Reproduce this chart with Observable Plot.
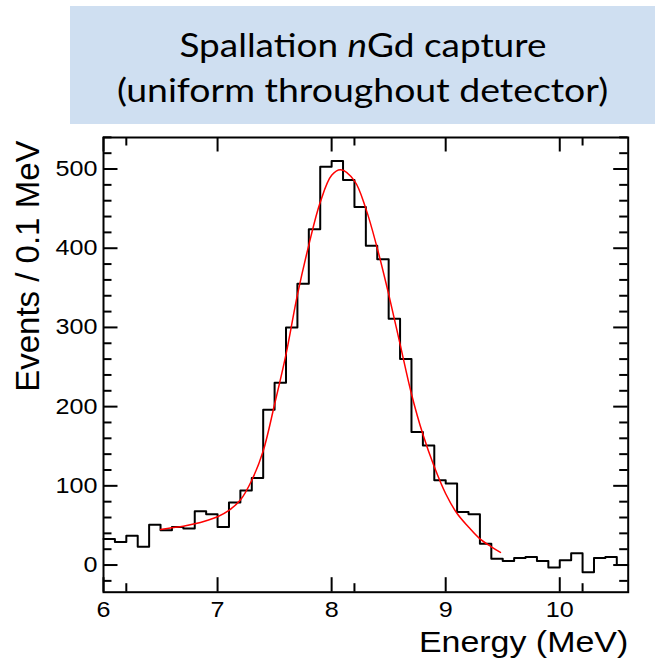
<!DOCTYPE html>
<html>
<head>
<meta charset="utf-8">
<script src="https://cdn.jsdelivr.net/npm/d3@7"></script>
<script src="https://cdn.jsdelivr.net/npm/@observablehq/plot@0.6"></script>
<style>
  body { margin: 0; background: #fff; width: 655px; height: 660px; overflow: hidden; }
  #title { position: relative; height: 130px; width: 655px; }
  #box { position: absolute; left: 70px; top: 6px; width: 585px; height: 118px; background: #cfdff1; }
  .tl { position: absolute; left: 0; width: 585px; text-align: center; font-family: Lato, "Open Sans", sans-serif;
        font-size: 33px; line-height: 40px; color: #000; white-space: nowrap; }
  .tl span { display: inline-block; transform-origin: 50% 50%; }
  svg { display: block; }
</style>
</head>
<body>
<div id="title">
  <div id="box">
    <div class="tl" style="top:18px"><span id="l1">Spallation <i>n</i>Gd capture</span></div>
    <div class="tl" style="top:63px"><span id="l2">(uniform throughout detector)</span></div>
  </div>
</div>
<div id="chart"></div>
<script>
// ---- data ----
const binStart = [6.0, 6.1, 6.2, 6.3, 6.4, 6.5, 6.6, 6.7, 6.8, 6.9,
                  7.0, 7.1, 7.2, 7.3, 7.4, 7.5, 7.6, 7.7, 7.8, 7.9,
                  8.0, 8.1, 8.2, 8.3, 8.4, 8.5, 8.6, 8.7, 8.8, 8.9,
                  9.0, 9.1, 9.2, 9.3, 9.4, 9.5, 9.6, 9.7, 9.8, 9.9,
                  10.0, 10.1, 10.2, 10.3, 10.4, 10.5];
const events = [33, 29, 37, 23, 51, 44, 48, 46, 68, 64,
                48, 79, 94, 110, 196, 230, 300, 355, 424, 503,
                510, 486, 452, 403, 386, 311, 260, 168, 151, 107,
                103, 67, 64, 27, 8, 5, 9, 10, 5, -3,
                6, 15, -9, 9, 10, 0];
const binWidth = 0.1;
const fitEnergy = [6.5, 6.6, 6.7, 6.8, 6.9, 7.0, 7.1, 7.2, 7.3, 7.4, 7.5, 7.6, 7.7, 7.8, 7.9,
                   8.0, 8.08, 8.2, 8.3, 8.4, 8.5, 8.6, 8.7, 8.8, 8.9, 9.0, 9.1, 9.2, 9.3, 9.4, 9.48];
const fitEvents = [45, 47, 49, 52, 56, 61, 69, 82, 107, 144, 203, 266, 341, 404, 458,
                   492, 499, 485, 450, 400, 342, 279, 216, 165, 124, 90, 65, 48, 33, 23, 16];
const xTickLabels = [6, 7, 8, 9, 10];
const yTickLabels = [0, 100, 200, 300, 400, 500];
const xTitle = "Energy (MeV)";
const yTitle = "Events / 0.1 MeV";

// ---- derived tables ----
const hist = binStart.map((e, i) => ({x: e, y: events[i]}));
hist.push({x: binStart[binStart.length - 1] + binWidth, y: events[events.length - 1]});
const fit = fitEnergy.map((e, i) => ({x: e, y: fitEvents[i]}));
const xMinor = d3.range(62, 1061, 20).map(v => v / 10).filter(v => Math.abs(v - Math.round(v)) > 1e-6);
const yMinor = d3.range(-20, 541, 20).filter(v => v % 100 !== 0);

// ---- layout ----
const W = 655, H = 530, mL = 103, mR = 27.3, mT = 7, mB = 68.3;
const fw = W - mL - mR, fh = H - mT - mB;
const majL = 14.5, minL = 8.5;
const ink = "#000";

const chart = Plot.plot({
  width: W, height: H,
  marginLeft: mL, marginRight: mR, marginTop: mT, marginBottom: mB,
  x: {domain: [6, 10.6]},
  y: {domain: [-34.3, 539.8]},
  style: {fontFamily: "'Liberation Sans', Arial, sans-serif", fontSize: "21.5px", color: ink, background: "#fff"},
  marks: [
    Plot.line(hist, {x: "x", y: "y", curve: "step-after", stroke: ink, strokeWidth: 2}),
    Plot.line(fit, {x: "x", y: "y", curve: "catmull-rom", stroke: "#ff0000", strokeWidth: 1.5}),
    Plot.tickX(xTickLabels, {x: d => d, insetTop: fh - majL, stroke: ink, strokeWidth: 2}),
    Plot.tickX(xTickLabels, {x: d => d, insetBottom: fh - majL, stroke: ink, strokeWidth: 2}),
    Plot.tickX(xMinor, {x: d => d, insetTop: fh - minL, stroke: ink, strokeWidth: 2}),
    Plot.tickX(xMinor, {x: d => d, insetBottom: fh - minL, stroke: ink, strokeWidth: 2}),
    Plot.tickY(yTickLabels, {y: d => d, insetRight: fw - majL, stroke: ink, strokeWidth: 2}),
    Plot.tickY(yTickLabels, {y: d => d, insetLeft: fw - majL, stroke: ink, strokeWidth: 2}),
    Plot.tickY(yMinor, {y: d => d, insetRight: fw - minL, stroke: ink, strokeWidth: 2}),
    Plot.tickY(yMinor, {y: d => d, insetLeft: fw - minL, stroke: ink, strokeWidth: 2}),
    Plot.frame({stroke: ink, strokeWidth: 2}),
    Plot.axisX(xTickLabels, {tickSize: 0, tickPadding: 10, label: null, tickFormat: d => String(d), fontSize: 21.5}),
    Plot.axisY(yTickLabels, {tickSize: 0, tickPadding: 6, label: null, tickFormat: d => String(d), fontSize: 21.5}),
    Plot.text([xTitle], {frameAnchor: "bottom-right", textAnchor: "end", lineAnchor: "bottom",
                         dy: 60, fontSize: 29}),
    Plot.text([yTitle], {frameAnchor: "top-left", rotate: -90, textAnchor: "end", lineAnchor: "bottom",
                         dx: -65, dy: 3, fontSize: 33})
  ]
});
document.getElementById("chart").appendChild(chart);

// horizontal stretch of the ROOT-style labels, as in the reference
const k = 1.17;
const stretch = t => {
  const tr = t.getAttribute("transform");
  if (tr) {
    t.setAttribute("transform", `${tr} scale(${k},1)`);
  } else {
    const x = +(t.getAttribute("x") || 0), y = +(t.getAttribute("y") || 0);
    t.setAttribute("x", 0); t.setAttribute("y", 0);
    t.setAttribute("transform", `translate(${x},${y}) scale(${k},1)`);
  }
};
chart.querySelectorAll('[aria-label="x-axis tick label"] text, [aria-label="y-axis tick label"] text').forEach(stretch);
[...chart.querySelectorAll("text")].filter(t => t.textContent === xTitle).forEach(stretch);

// title line widths as in the reference
[["l1", 367], ["l2", 491]].forEach(([id, target]) => {
  const el = document.getElementById(id);
  const w = el.getBoundingClientRect().width;
  el.style.transform = `scaleX(${(target / w).toFixed(3)})`;
});
</script>
</body>
</html>
